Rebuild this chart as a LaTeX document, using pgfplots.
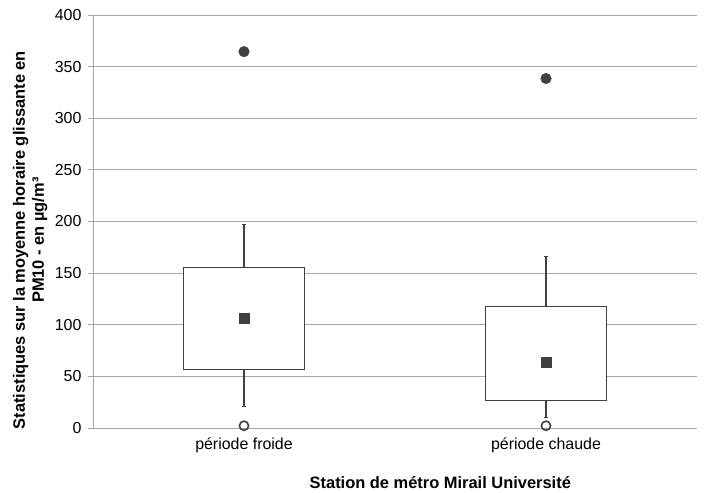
\documentclass[border=0pt]{standalone}
\usepackage{pgfplots}
\pgfplotsset{compat=1.18}
\usepgfplotslibrary{statistics}
\usepackage{fontspec}
\setmainfont{Liberation Sans}
\definecolor{dk}{HTML}{404040}
\definecolor{gr}{HTML}{A6A6A6}
\begin{document}
\begin{tikzpicture}
\useasboundingbox (-93bp,-65bp) rectangle (612bp,428bp);
\begin{axis}[
  scale only axis,
  width=604bp, height=413bp,
  xmin=0.5, xmax=2.5,
  ymin=0, ymax=400,
  ytick={0,50,...,400},
  xtick={1,2},
  xticklabels={période froide, période chaude},
  extra x ticks={0.5,1.5,2.5},
  extra x tick labels={},
  extra x tick style={tick style={draw=gr, line width=0.8pt}},
  axis lines*=left,
  axis line style={gr, line width=0.8pt},
  ymajorgrids,
  grid style={gr, line width=0.8pt},
  y tick style={gr, line width=0.8pt},
  x tick style={draw=none},
  tick align=outside,
  major tick length=5bp,
  ytick pos=left,
  /pgf/number format/assume math mode=true,
  tick label style={font=\fontsize{16}{18}\selectfont},
  xticklabel style={font=\fontsize{16}{18}\selectfont, yshift=-1bp},
  yticklabel style={xshift=-3bp},
  ylabel={Statistiques sur la moyenne horaire glissante en\\PM10 - en µg/m³},
  ylabel style={align=center, font=\bfseries\fontsize{16.5}{19}\selectfont,
    at={(axis description cs:-0.104,0.455)}, anchor=center},
  xlabel={Station de métro Mirail Université},
  xlabel style={font=\bfseries\fontsize{16.5}{19}\selectfont,
    at={(axis description cs:0.575,0)}, anchor=center, yshift=-55bp},
  boxplot/draw direction=y,
  clip=false,
]
\addplot+[
  draw=dk, line width=1.3pt, fill=white, solid, mark=none,
  boxplot prepared={draw position=1, lower whisker=21, lower quartile=56.5,
    median=106, upper quartile=155.5, upper whisker=197,
    box extend=0.4, whisker extend=0.012},
  boxplot/draw/median/.code={},
] coordinates {};
\addplot+[
  draw=dk, line width=1.3pt, fill=white, solid, mark=none,
  boxplot prepared={draw position=2, lower whisker=10.5, lower quartile=26.5,
    median=63, upper quartile=117.5, upper whisker=166,
    box extend=0.4, whisker extend=0.012},
  boxplot/draw/median/.code={},
] coordinates {};
% means
\addplot[only marks, mark=square*, mark size=5bp, dk, mark options={fill=dk, draw=dk}]
  coordinates {(1,106) (2,63.6)};
% maxima
\addplot[only marks, mark=*, mark size=5.3bp, dk, mark options={fill=dk, draw=dk}]
  coordinates {(1,364.5) (2,338.5)};
% minima
\addplot[only marks, mark=o, mark size=4.6bp, dk, mark options={fill=white, draw=dk, line width=1.6pt}]
  coordinates {(1,2.2) (2,2.2)};
\end{axis}
\end{tikzpicture}
\end{document}
